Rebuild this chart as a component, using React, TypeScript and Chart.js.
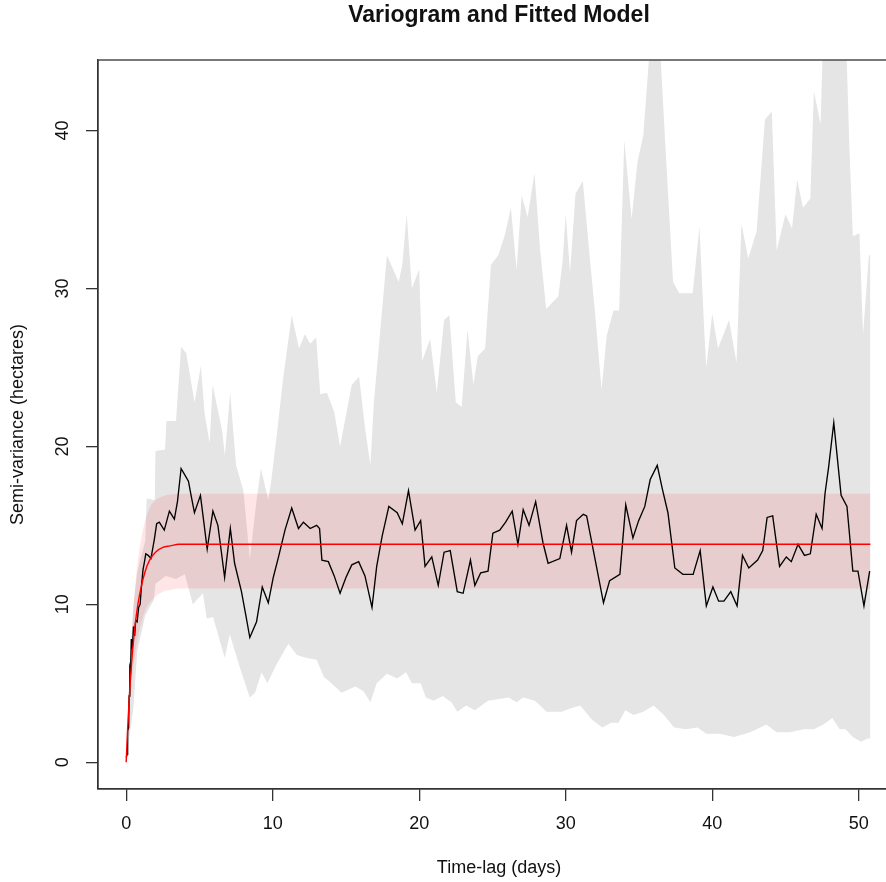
import { useEffect, useRef } from "react";
import { Chart, registerables } from "chart.js";

Chart.register(...registerables);

// Axis ticks
const xTickValues = [0, 10, 20, 30, 40, 50];
const yTickValues = [0, 10, 20, 30, 40];

// Empirical semi-variance by time-lag (days, hectares)
const empirical: [number, number][] = [
  [0.0, 0.3], [0.07, 0.5], [0.1, 2.0], [0.17, 2.2], [0.2, 4.2], [0.25, 6.0], [0.3, 5.8], [0.35, 7.8],
  [0.42, 7.2], [0.5, 8.6], [0.58, 8.0], [0.65, 9.0], [0.75, 8.9], [0.85, 9.8], [0.95, 10.0], [1.05, 11.2],
  [1.15, 12.2], [1.23, 12.6], [1.34, 13.2], [1.5, 13.1], [1.69, 12.9], [1.92, 14.1], [2.08, 15.1], [2.26, 15.2],
  [2.6, 14.7], [2.95, 15.9], [3.29, 15.4], [3.5, 16.5], [3.75, 18.6], [4.0, 18.2], [4.25, 17.8], [4.45, 16.8],
  [4.66, 15.8], [5.07, 16.9], [5.3, 15.2], [5.53, 13.5], [5.92, 15.9], [6.26, 15.0], [6.5, 13.3], [6.72, 11.7],
  [7.11, 14.8], [7.4, 12.6], [7.87, 10.8], [8.15, 9.4], [8.44, 7.9], [8.9, 8.9], [9.29, 11.1], [9.7, 10.1],
  [10.04, 11.7], [10.4, 13.0], [10.84, 14.7], [11.3, 16.1], [11.76, 14.8], [12.1, 15.2], [12.56, 14.8], [13.0, 15.0],
  [13.2, 14.8], [13.36, 12.8], [13.8, 12.7], [14.2, 11.8], [14.6, 10.7], [15.0, 11.7], [15.4, 12.5], [15.87, 12.7],
  [16.3, 11.8], [16.78, 9.8], [17.1, 12.4], [17.47, 14.3], [17.93, 16.2], [18.5, 15.8], [18.85, 15.1], [19.27, 17.2],
  [19.72, 14.7], [20.1, 15.3], [20.4, 12.4], [20.86, 13.0], [21.3, 11.2], [21.7, 13.3], [22.12, 13.4], [22.6, 10.8],
  [23.0, 10.7], [23.5, 12.8], [23.8, 11.2], [24.2, 12.0], [24.7, 12.1], [25.03, 14.5], [25.5, 14.7], [25.9, 15.2],
  [26.35, 15.9], [26.74, 13.8], [27.1, 16.0], [27.5, 15.0], [27.95, 16.5], [28.45, 13.9], [28.8, 12.6], [29.6, 12.9],
  [30.06, 15.0], [30.4, 13.3], [30.74, 15.3], [31.2, 15.7], [31.43, 15.6], [32.1, 12.4], [32.58, 10.1], [33.0, 11.5],
  [33.7, 11.9], [34.1, 16.3], [34.59, 14.2], [34.98, 15.3], [35.4, 16.2], [35.77, 17.9], [36.25, 18.8], [36.6, 17.3],
  [36.98, 15.8], [37.45, 12.3], [38.0, 11.9], [38.7, 11.9], [39.18, 13.4], [39.6, 9.9], [40.05, 11.1], [40.44, 10.2],
  [40.8, 10.2], [41.27, 10.8], [41.7, 9.9], [42.07, 13.1], [42.5, 12.3], [43.1, 12.8], [43.45, 13.4], [43.75, 15.5],
  [44.13, 15.6], [44.6, 12.4], [45.06, 13.0], [45.4, 12.7], [45.86, 13.8], [46.3, 13.1], [46.7, 13.2], [47.1, 15.7],
  [47.5, 14.8], [47.7, 17.0], [47.95, 18.7], [48.3, 21.5], [48.8, 16.9], [49.2, 16.2], [49.6, 12.1], [49.95, 12.1],
  [50.36, 9.9], [50.75, 12.1],
];

// Simulation envelope, upper bound
const envelopeUpper: [number, number][] = [
  [0, 0.6], [0.25, 6.0], [0.5, 10.0], [0.75, 12.0], [1.0, 13.0], [1.3, 14.0], [1.4, 16.7], [1.95, 16.6],
  [2.0, 19.7], [2.65, 19.8], [2.75, 21.6], [3.4, 21.6], [3.75, 26.3], [4.1, 25.9], [4.67, 22.8], [5.1, 25.1],
  [5.35, 22.1], [5.7, 20.2], [5.9, 23.9], [6.57, 20.9], [6.73, 19.4], [7.1, 23.4], [7.5, 18.8], [8.0, 17.2],
  [8.44, 12.9], [8.9, 16.6], [9.2, 18.6], [9.7, 16.6], [9.9, 17.8], [10.3, 20.9], [10.7, 24.2], [11.3, 28.3],
  [11.8, 26.2], [12.2, 27.1], [12.56, 26.5], [12.97, 26.9], [13.25, 23.3], [13.7, 23.4], [14.2, 22.2], [14.6, 20.0],
  [15.4, 23.9], [15.9, 24.4], [16.3, 21.2], [16.67, 18.8], [16.9, 22.7], [17.36, 27.5], [17.8, 32.1], [18.6, 30.4],
  [18.85, 31.5], [19.15, 34.7], [19.5, 30.0], [20.0, 31.2], [20.2, 25.4], [20.75, 26.8], [21.2, 23.4], [21.7, 28.0],
  [22.06, 28.3], [22.5, 22.8], [22.9, 22.5], [23.3, 27.4], [23.7, 23.9], [24.0, 25.7], [24.5, 26.2], [24.9, 31.5],
  [25.4, 32.1], [25.85, 33.4], [26.26, 35.1], [26.65, 31.2], [27.0, 35.9], [27.4, 34.5], [27.87, 37.3], [28.26, 32.4],
  [28.67, 28.7], [29.5, 29.5], [29.8, 31.8], [30.0, 34.7], [30.3, 31.0], [30.67, 36.0], [31.17, 36.8], [31.6, 32.4],
  [32.0, 28.5], [32.45, 23.6], [32.8, 27.0], [33.26, 28.6], [33.65, 28.6], [34.0, 39.4], [34.5, 34.4], [34.9, 38.0],
  [35.3, 39.7], [35.8, 46.0], [36.4, 46.0], [36.8, 39.1], [37.33, 30.4], [37.75, 29.7], [38.67, 29.7], [39.13, 33.9],
  [39.47, 27.1], [39.6, 25.0], [40.0, 28.4], [40.4, 26.2], [41.15, 28.0], [41.66, 25.3], [42.0, 34.1], [42.46, 31.9],
  [43.03, 33.6], [43.6, 40.7], [44.07, 41.2], [44.4, 32.4], [45.0, 34.7], [45.45, 33.8], [45.8, 36.9], [46.2, 35.1],
  [46.7, 35.7], [46.94, 42.5], [47.4, 40.4], [47.6, 47.0], [49.1, 47.0], [49.36, 39.1], [49.6, 33.3], [50.05, 33.5],
  [50.3, 27.1], [50.7, 32.1], [50.8, 32.1],
];

// Simulation envelope, lower bound
const envelopeLower: [number, number][] = [
  [0, 0.1], [0.5, 3.5], [0.75, 7.0], [1.3, 9.3], [1.9, 10.3], [2.0, 11.3], [2.7, 11.8], [3.4, 11.6],
  [4.0, 11.9], [4.55, 10.0], [5.24, 10.7], [5.5, 9.1], [5.93, 9.2], [6.73, 6.6], [7.07, 8.1], [7.76, 6.0],
  [8.44, 4.1], [8.8, 4.4], [9.24, 5.7], [9.63, 5.0], [10.27, 6.2], [11.07, 7.5], [11.65, 6.8], [12.33, 6.6],
  [13.0, 6.5], [13.5, 5.4], [13.9, 5.1], [14.7, 4.4], [15.65, 4.8], [16.2, 4.5], [16.67, 3.8], [17.1, 5.0],
  [17.8, 5.6], [18.5, 5.3], [19.1, 5.7], [19.5, 5.0], [20.1, 5.0], [20.46, 4.1], [21.0, 3.9], [21.6, 4.2],
  [22.2, 3.8], [22.6, 3.2], [23.2, 3.6], [23.8, 3.3], [24.7, 3.9], [26.1, 4.1], [26.65, 3.8], [27.1, 4.1],
  [27.9, 3.9], [28.7, 3.2], [29.75, 3.2], [30.3, 3.4], [31.0, 3.6], [31.8, 2.7], [32.5, 2.2], [33.1, 2.5],
  [33.6, 2.5], [34.07, 3.3], [34.64, 3.0], [35.3, 3.2], [36.0, 3.6], [36.7, 3.0], [37.4, 2.2], [38.2, 2.1],
  [39.0, 2.2], [39.6, 1.8], [40.5, 1.8], [41.5, 1.6], [42.6, 1.9], [43.7, 2.4], [44.4, 1.9], [45.3, 1.9],
  [46.25, 2.1], [46.94, 2.1], [47.6, 2.4], [48.2, 2.8], [48.7, 2.1], [49.1, 2.1], [49.6, 1.6], [50.16, 1.3],
  [50.6, 1.5], [50.8, 1.5],
];

// Fitted variogram model
const fittedModel: [number, number][] = [
  [0, 0], [0.1, 2.1], [0.2, 3.9], [0.3, 5.4], [0.45, 7.2], [0.6, 8.6], [0.8, 10.0], [1.0, 11.0],
  [1.3, 12.1], [1.6, 12.8], [2.0, 13.3], [2.5, 13.6], [3.0, 13.7], [3.6, 13.8], [50.8, 13.8],
];

// Band around the fitted model
const bandUpper: [number, number][] = [
  [0, 0], [0.1, 2.6], [0.2, 5.0], [0.3, 6.9], [0.45, 9.2], [0.6, 11.0], [0.8, 12.8], [1.0, 14.0],
  [1.3, 15.3], [1.6, 16.1], [2.0, 16.6], [2.5, 16.85], [3.0, 16.95], [3.6, 17.0], [50.8, 17.0],
];
const bandLower: [number, number][] = [
  [0, 0], [0.1, 1.7], [0.2, 3.1], [0.3, 4.3], [0.45, 5.7], [0.6, 6.8], [0.8, 7.9], [1.0, 8.7],
  [1.3, 9.6], [1.6, 10.1], [2.0, 10.5], [2.5, 10.8], [3.0, 10.9], [3.6, 11.0], [50.8, 11.0],
];

const FONT = '"Liberation Sans", Arial, Helvetica, sans-serif';
const INK = "#111111";

const toXY = (pts: [number, number][]) => pts.map(([x, y]) => ({ x, y }));

// Plot frame plus rotated y tick labels
const framePlugin = {
  id: "frame",
  afterDraw(chart: any) {
    const { ctx, chartArea } = chart;
    const { left, top, right, bottom } = chartArea;
    ctx.save();
    ctx.strokeStyle = "#333333";
    ctx.lineWidth = 1.3;
    ctx.strokeRect(left, top, right - left, bottom - top);

    const yScale = chart.scales.y;
    ctx.fillStyle = INK;
    ctx.font = `18px ${FONT}`;
    ctx.textAlign = "center";
    ctx.textBaseline = "middle";
    for (const t of yScale.ticks) {
      const py = yScale.getPixelForValue(t.value);
      ctx.save();
      ctx.translate(63.5, py);
      ctx.rotate(-Math.PI / 2);
      ctx.fillText(String(t.value), 0, 0);
      ctx.restore();
    }
    ctx.restore();
  },
};

export default function App() {
  const canvasRef = useRef<HTMLCanvasElement | null>(null);

  useEffect(() => {
    const canvas = canvasRef.current;
    if (!canvas) return;

    const hidden = "rgba(0,0,0,0)";
    const chart = new Chart(canvas, {
      type: "line",
      data: {
        datasets: [
          {
            data: toXY(envelopeUpper),
            borderColor: hidden,
            borderWidth: 0,
            backgroundColor: "#E5E5E5",
            fill: { target: 1 },
            pointRadius: 0,
            order: 5,
          },
          {
            data: toXY(envelopeLower),
            borderColor: hidden,
            borderWidth: 0,
            fill: false,
            pointRadius: 0,
            order: 5,
          },
          {
            data: toXY(bandUpper),
            borderColor: hidden,
            borderWidth: 0,
            backgroundColor: "rgba(255,0,0,0.1)",
            fill: { target: 3 },
            pointRadius: 0,
            cubicInterpolationMode: "monotone",
            order: 4,
          },
          {
            data: toXY(bandLower),
            borderColor: hidden,
            borderWidth: 0,
            fill: false,
            pointRadius: 0,
            cubicInterpolationMode: "monotone",
            order: 4,
          },
          {
            data: toXY(empirical),
            borderColor: "#000000",
            borderWidth: 1.35,
            fill: false,
            pointRadius: 0,
            order: 2,
          },
          {
            data: toXY(fittedModel),
            borderColor: "#FF0000",
            borderWidth: 1.4,
            fill: false,
            pointRadius: 0,
            cubicInterpolationMode: "monotone",
            order: 1,
          },
        ],
      },
      options: {
        responsive: false,
        animation: false,
        devicePixelRatio: 1,
        events: [],
        layout: { padding: 0 },
        plugins: {
          legend: { display: false },
          tooltip: { enabled: false },
          title: {
            display: true,
            text: "Variogram and Fitted Model",
            fullSize: false,
            color: INK,
            font: { family: FONT, size: 23, weight: "bold", lineHeight: 1.2 },
            padding: { top: 2.2, bottom: 30.2 },
          },
        },
        scales: {
          x: {
            type: "linear",
            min: -1.923,
            max: 52.82,
            afterBuildTicks: (scale: any) => {
              scale.ticks = xTickValues.map((v) => ({ value: v }));
            },
            afterFit: (scale: any) => {
              scale.height = 93;
            },
            grid: {
              drawOnChartArea: false,
              drawTicks: true,
              tickLength: 12,
              tickColor: "#333333",
              lineWidth: 1.3,
            },
            border: { display: true, color: "#333333", width: 1.3 },
            ticks: {
              color: INK,
              font: { family: FONT, size: 18 },
              padding: 11.9,
              maxRotation: 0,
              autoSkip: false,
            },
            title: {
              display: true,
              text: "Time-lag (days)",
              color: INK,
              font: { family: FONT, size: 18, lineHeight: 1.2 },
              padding: { top: 0, bottom: 3.2 },
            },
          },
          y: {
            type: "linear",
            min: -1.69,
            max: 44.46,
            afterBuildTicks: (scale: any) => {
              scale.ticks = yTickValues.map((v) => ({ value: v }));
            },
            afterFit: (scale: any) => {
              scale.width = 98;
            },
            grid: {
              drawOnChartArea: false,
              drawTicks: true,
              tickLength: 12,
              tickColor: "#333333",
              lineWidth: 1.3,
            },
            border: { display: true, color: "#333333", width: 1.3 },
            ticks: { display: false },
            title: {
              display: true,
              text: "Semi-variance (hectares)",
              color: INK,
              font: { family: FONT, size: 18, lineHeight: 1.2 },
              padding: { top: 7.5, bottom: 0 },
            },
          },
        },
      } as any,
      plugins: [framePlugin],
    });

    return () => chart.destroy();
  }, []);

  return (
    <div
      style={{
        position: "fixed",
        left: 0,
        top: 0,
        width: 886,
        height: 882,
        overflow: "hidden",
        background: "#ffffff",
      }}
    >
      <canvas
        ref={canvasRef}
        width={900}
        height={882}
        style={{ display: "block", width: 900, height: 882 }}
      />
    </div>
  );
}
